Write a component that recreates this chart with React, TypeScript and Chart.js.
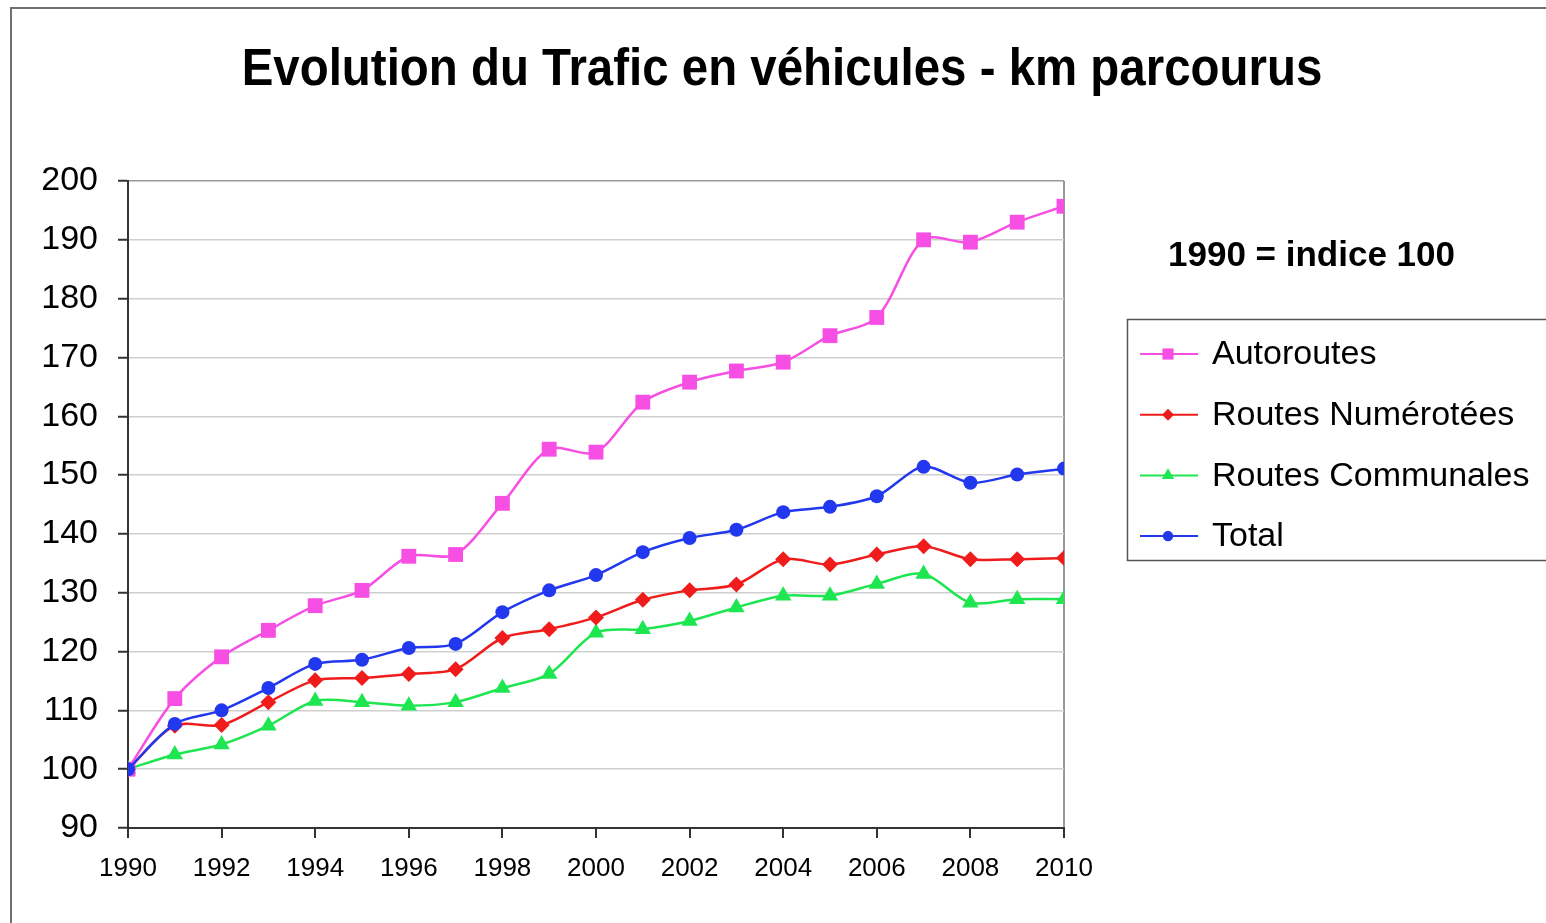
import React, { useEffect, useRef } from 'react';
import { Chart, registerables } from 'chart.js';
import { drawPoint } from 'chart.js/helpers';

Chart.register(...registerables);

const TITLE = 'Evolution du Trafic en véhicules - km parcourus';
const NOTE = '1990 = indice 100';

const years = [1990, 1991, 1992, 1993, 1994, 1995, 1996, 1997, 1998, 1999, 2000, 2001, 2002, 2003, 2004, 2005, 2006, 2007, 2008, 2009, 2010];
const autoroutes = [100, 112.0, 119.1, 123.6, 127.8, 130.4, 136.2, 136.5, 145.2, 154.4, 153.9, 162.4, 165.8, 167.7, 169.2, 173.7, 176.8, 190.0, 189.6, 193.0, 195.7];
const routesNumerotees = [100, 107.4, 107.5, 111.4, 115.1, 115.5, 116.2, 117.0, 122.3, 123.8, 125.8, 128.8, 130.4, 131.4, 135.7, 134.8, 136.5, 137.9, 135.7, 135.7, 135.9];
const routesCommunales = [100, 102.5, 104.2, 107.4, 111.6, 111.4, 110.8, 111.4, 113.8, 116.2, 123.2, 123.8, 125.2, 127.5, 129.5, 129.5, 131.5, 133.2, 128.3, 128.9, 128.9];
const total = [100, 107.7, 110.0, 113.8, 117.9, 118.6, 120.6, 121.3, 126.7, 130.4, 133.0, 136.9, 139.3, 140.7, 143.7, 144.6, 146.4, 151.4, 148.7, 150.1, 151.1];

const seriesLabels = ['Autoroutes', 'Routes Numérotées', 'Routes Communales', 'Total'];
const seriesColors = ['#f74fe4', '#f01c1c', '#1ee650', '#2238ee'];
const seriesStyles = ['rect', 'rectRot', 'triangle', 'circle'];
const seriesRadius = [10.5, 8, 9.5, 7];
const seriesOrder = [1, 2, 3, 0];

const FONT = '"Liberation Sans", Arial, Helvetica, sans-serif';

const overlayPlugin = {
  id: 'overlay',
  afterDraw(chart: any) {
    const ctx = chart.ctx as CanvasRenderingContext2D;
    const area = chart.chartArea;
    const left = area.right + 63;
    ctx.save();
    ctx.fillStyle = '#000';
    ctx.textAlign = 'center';
    ctx.textBaseline = 'alphabetic';
    ctx.font = `bold 51px ${FONT}`;
    ctx.save();
    ctx.translate(782, 85);
    ctx.scale(0.93, 1);
    ctx.fillText(TITLE, 0, 0);
    ctx.restore();

    ctx.textBaseline = 'middle';
    ctx.textAlign = 'left';
    ctx.font = `bold 35px ${FONT}`;
    ctx.fillText(NOTE, area.right + 104, 256);

    ctx.strokeStyle = '#555';
    ctx.lineWidth = 1.5;
    ctx.strokeRect(left + 0.5, 319.5, 500, 241);

    chart.data.datasets.forEach((ds: any, i: number) => {
      const y = 354 + i * 60.7;
      ctx.strokeStyle = ds.borderColor;
      ctx.lineWidth = 2;
      ctx.beginPath();
      ctx.moveTo(left + 13, y);
      ctx.lineTo(left + 71, y);
      ctx.stroke();
      ctx.fillStyle = ds.borderColor;
      ctx.strokeStyle = ds.borderColor;
      drawPoint(ctx, { pointStyle: ds.pointStyle, radius: ds.pointRadius * 0.75, rotation: 0, borderWidth: 0 } as any, left + 41, y);
      ctx.fillStyle = '#000';
      ctx.font = `34px ${FONT}`;
      ctx.fillText(ds.label, left + 85, y + 1);
    });
    ctx.restore();
  },
};

export default function App() {
  const canvasRef = useRef<HTMLCanvasElement | null>(null);

  useEffect(() => {
    if (!canvasRef.current) return;
    const seriesValues = [autoroutes, routesNumerotees, routesCommunales, total];
    const datasets = seriesLabels.map((label, i) => ({
      label,
      data: years.map((x, j) => ({ x, y: seriesValues[i][j] })),
      borderColor: seriesColors[i],
      backgroundColor: seriesColors[i],
      pointBackgroundColor: seriesColors[i],
      pointBorderColor: seriesColors[i],
      pointBorderWidth: 0,
      pointStyle: seriesStyles[i],
      pointRadius: seriesRadius[i],
      borderWidth: 2.5,
      tension: 0.3,
      order: seriesOrder[i],
    }));

    const chart = new Chart(canvasRef.current, {
      type: 'line',
      data: { datasets },
      plugins: [overlayPlugin],
      options: {
        animation: false,
        responsive: true,
        maintainAspectRatio: false,
        layout: { padding: { left: 0, right: 482, top: 181, bottom: 35 } },
        plugins: {
          legend: { display: false },
          tooltip: { enabled: false },
          title: { display: false },
        },
        scales: {
          x: {
            type: 'linear',
            min: 1990,
            max: 2010,
            afterFit: (scale: any) => { scale.height = 60; },
            ticks: {
              stepSize: 2,
              color: '#000',
              font: { family: FONT, size: 26 },
              padding: 15,
              maxRotation: 0,
              callback: (v: any) => String(v),
            },
            grid: {
              drawOnChartArea: true,
              color: (c: any) => (c.tick && c.tick.value === 2010 ? '#9a9a9a' : 'rgba(0,0,0,0)'),
              lineWidth: 2,
              tickColor: '#333',
              tickLength: 10,
              tickWidth: 2,
            },
            border: { display: true, color: '#333', width: 2 },
          },
          y: {
            type: 'linear',
            min: 90,
            max: 200,
            afterFit: (scale: any) => { scale.width = 128; },
            ticks: {
              stepSize: 10,
              color: '#000',
              font: { family: FONT, size: 34 },
              padding: 20,
            },
            grid: {
              color: (c: any) => (c.tick && c.tick.value === 200 ? '#9a9a9a' : '#cfcfcf'),
              lineWidth: 1.5,
              tickColor: '#333',
              tickLength: 10,
              tickWidth: 2,
            },
            border: { display: true, color: '#333', width: 2 },
          },
        },
      },
    });
    return () => chart.destroy();
  }, []);

  return (
    <div style={{ position: 'fixed', left: 0, top: 0, width: 1546, height: 923, background: '#fff', overflow: 'hidden' }}>
      <div style={{ position: 'absolute', left: 10, top: 7, width: 1700, height: 1100, border: '2px solid #707070', boxSizing: 'border-box' }} />
      <div style={{ position: 'absolute', left: 0, top: 0, width: 1546, height: 923 }}>
        <canvas ref={canvasRef} />
      </div>
    </div>
  );
}
